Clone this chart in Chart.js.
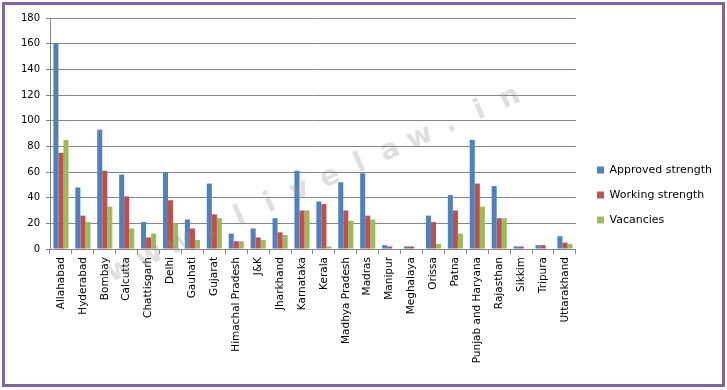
<!DOCTYPE html>
<html>
<head>
<meta charset="utf-8">
<script src="https://cdn.jsdelivr.net/npm/chart.js@4.4.1/dist/chart.umd.min.js"></script>
<style>
  html, body { margin: 0; padding: 0; background: #fff; }
  #wrap { position: relative; width: 727px; height: 390px; }
  #c { position: absolute; left: 0; top: 0; }
  #frame { position: absolute; left: 2px; top: 2px; width: 717px; height: 379px; border: 3px solid #8064A2; pointer-events: none; }
</style>
</head>
<body>
<div id="wrap">
  <canvas id="c" width="727" height="390"></canvas>
  <div id="frame"></div>
</div>
<script>
// high court judges: approved vs working strength and vacancies

const courts = [
    'Allahabad', 'Hyderabad', 'Bombay', 'Calcutta', 'Chattisgarh', 'Delhi',
    'Gauhati', 'Gujarat', 'Himachal Pradesh', 'J&K', 'Jharkhand', 'Karnataka',
    'Kerala', 'Madhya Pradesh', 'Madras', 'Manipur', 'Meghalaya', 'Orissa',
    'Patna', 'Punjab and Haryana', 'Rajasthan', 'Sikkim', 'Tripura', 'Uttarakhand'
];
const approved = [160, 48, 93, 58, 21, 60, 23, 51, 12, 16, 24, 61, 37, 52, 59, 3, 2, 26, 42, 85, 49, 2, 3, 10];
const working = [75, 26, 61, 41, 9, 38, 16, 27, 6, 9, 13, 30, 35, 30, 26, 2, 2, 21, 30, 51, 24, 2, 3, 5];
const vacancies = [85, 21, 33, 16, 12, 20, 7, 24, 6, 7, 11, 30, 2, 22, 23, 0, 0, 4, 12, 33, 24, 0, 0, 4];
const yTicks = [0, 20, 40, 60, 80, 100, 120, 140, 160, 180];

const gridGray = '#868686';
const tickFont = { family: 'DejaVu Sans', size: 10 };

// put the legend where excel had it (lower right, a bit off the plot)
const legendPlace = {
    id: 'legendPlace',
    afterLayout(chart) {
        const l = chart.legend;
        const dx = 583 - l.left;
        const dy = 150.5 - l.top;
        l.left += dx; l.right += dx;
        l.top += dy; l.bottom += dy;
    }
};

// faint site watermark across the plot
const watermark = {
    id: 'watermark',
    afterDatasetsDraw(chart) {
        const ctx = chart.ctx;
        const text = 'www.livelaw.in';
        const ang = Math.atan(-0.441);
        const step = 30 / Math.cos(ang);
        ctx.save();
        ctx.translate(120, 270);
        ctx.rotate(ang);
        ctx.font = 'bold 28px "DejaVu Sans"';
        ctx.fillStyle = 'rgba(150,150,150,0.3)';
        ctx.textAlign = 'center';
        ctx.textBaseline = 'middle';
        for (let i = 0; i < text.length; i++) {
            ctx.fillText(text[i], i * step, 0);
        }
        ctx.restore();
    }
};

const data = {
    labels: courts,
    datasets: [
        { label: 'Approved strength', data: approved, backgroundColor: '#4F81BD' },
        { label: 'Working strength', data: working, backgroundColor: '#C0504D' },
        { label: 'Vacancies', data: vacancies, backgroundColor: '#9BBB59' }
    ]
};

const config = {
    type: 'bar',
    data: data,
    options: {
        responsive: false,
        animation: false,
        datasets: {
            bar: { barPercentage: 1, categoryPercentage: 0.69 }
        },
        layout: { padding: { top: 18, left: 0, right: 12, bottom: 11 } },
        scales: {
            x: {
                grid: { offset: true, drawOnChartArea: false, drawTicks: true, tickLength: 5, color: gridGray },
                border: { color: gridGray },
                ticks: { color: '#000', font: { family: 'DejaVu Sans', size: 10.5 }, autoSkip: false, minRotation: 90, maxRotation: 90, padding: 3 },
                afterFit: (s) => { s.height = 130; }
            },
            y: {
                min: yTicks[0],
                max: yTicks[yTicks.length - 1],
                afterBuildTicks: (s) => { s.ticks = yTicks.map(v => ({ value: v })); },
                grid: { color: gridGray, tickLength: 4 },
                border: { color: gridGray },
                ticks: { color: '#000', font: tickFont, padding: 6 },
                afterFit: (s) => { s.width = 50; }
            }
        },
        plugins: {
            legend: {
                position: 'right',
                align: 'start',
                labels: {
                    color: '#000',
                    font: { family: 'DejaVu Sans', size: 11 },
                    boxWidth: 7,
                    boxHeight: 7,
                    padding: 14
                }
            },
            tooltip: { enabled: false }
        }
    },
    plugins: [legendPlace, watermark]
};

const myChart = new Chart(document.getElementById('c'), config);
</script>
</body>
</html>
